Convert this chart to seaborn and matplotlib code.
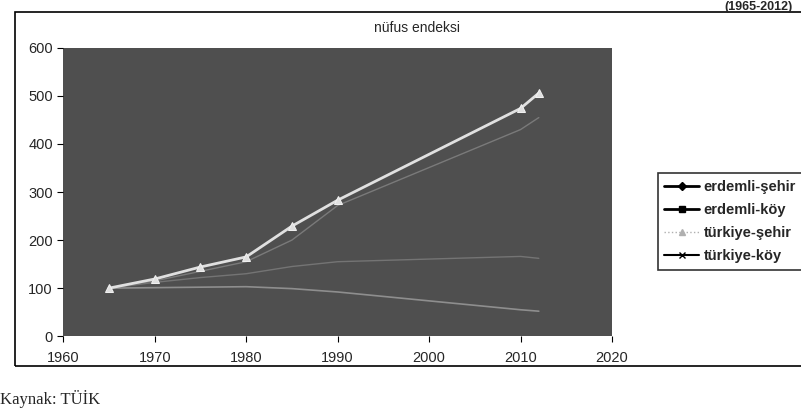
import numpy as np
import matplotlib
matplotlib.use("Agg")
import matplotlib.pyplot as plt
from matplotlib.lines import Line2D
from matplotlib.patches import Rectangle
import seaborn as sns
import pandas as pd

sns.set_style("white")
plt.rcParams['font.family'] = ['Liberation Sans', 'DejaVu Sans']

# values (index, 1965 = 100)
years = [1965, 1970, 1975, 1980, 1985, 1990, 2010, 2012]
erdemli_sehir = [100, 115, 135, 155, 200, 272, 430, 455]
erdemli_koy = [100, 112, 122, 130, 145, 155, 166, 162]
turkiye_sehir = [100, 119, 144, 165, 229, 283, 474, 506]
turkiye_koy = [100, 101, 102, 103, 99, 92, 55, 52]

series_names = ["erdemli-şehir", "erdemli-köy", "türkiye-şehir", "türkiye-köy"]
x_ticks = [1960, 1970, 1980, 1990, 2000, 2010, 2020]
y_ticks = [0, 100, 200, 300, 400, 500, 600]

df = pd.DataFrame({
    "yil": years * 4,
    "endeks": erdemli_sehir + erdemli_koy + turkiye_sehir + turkiye_koy,
    "seri": np.repeat(series_names, len(years)),
})

fig = plt.figure(figsize=(8.01, 4.13), dpi=100)
ax = fig.add_axes([0.079, 0.186, 0.685, 0.698])
ax.set_facecolor("#4f4f4f")

# faint lines on the dark plot area, the bright one with triangles on top
styles = {
    "erdemli-şehir": dict(color="#7a7a7a", lw=1.0),
    "erdemli-köy": dict(color="#747474", lw=1.0),
    "türkiye-köy": dict(color="#8e8e8e", lw=1.2),
    "türkiye-şehir": dict(color="#e0e0e0", lw=2.0, marker="^", markersize=6,
                          markeredgecolor="#f0f0f0"),
}
for name, kw in styles.items():
    sns.lineplot(data=df[df["seri"] == name], x="yil", y="endeks", ax=ax,
                 legend=False, **kw)

ax.set_xlim(1960, 2020)
ax.set_ylim(0, 600)
ax.set_xticks(x_ticks)
ax.set_yticks(y_ticks)
ax.set_xlabel("")
ax.set_ylabel("")
ax.tick_params(axis="both", labelsize=10.5, length=4, color="black",
               direction="out", left=True, bottom=True)
ax.tick_params(axis="x", pad=7)
for s in ax.spines.values():
    s.set_visible(False)

fig.text(0.521, 0.932, "nüfus endeksi", ha="center", va="center", fontsize=10)

handles = [
    Line2D([], [], color="black", lw=2, marker="D", markersize=4),
    Line2D([], [], color="black", lw=2, marker="s", markersize=4),
    Line2D([], [], color="#b0b0b0", lw=1, ls=":", marker="^", markersize=4),
    Line2D([], [], color="black", lw=1.5, marker="x", markersize=5),
]
leg = fig.legend(handles, series_names, loc="upper left",
                 bbox_to_anchor=(0.812, 0.598), frameon=True, fancybox=False,
                 fontsize=10.5, handlelength=2.4, borderpad=0.45,
                 labelspacing=0.62, handletextpad=0.3)
leg.get_frame().set_edgecolor("black")
leg.get_frame().set_linewidth(1.2)
for t in leg.get_texts():
    t.set_fontweight("bold")

# outer chart frame from the scanned page
fig.patches.append(Rectangle((0.019, 0.115), 1.0, 0.855, transform=fig.transFigure,
                             fill=False, edgecolor="black", lw=1.2))
fig.text(0.0, 0.012, "Kaynak: TÜİK", ha="left", va="bottom", fontsize=12,
         family=["Liberation Serif", "DejaVu Serif"])
fig.text(0.99, 0.998, "(1965-2012)", ha="right", va="top", fontsize=9,
         fontweight="bold")

fig.savefig("out.png", dpi=100)
